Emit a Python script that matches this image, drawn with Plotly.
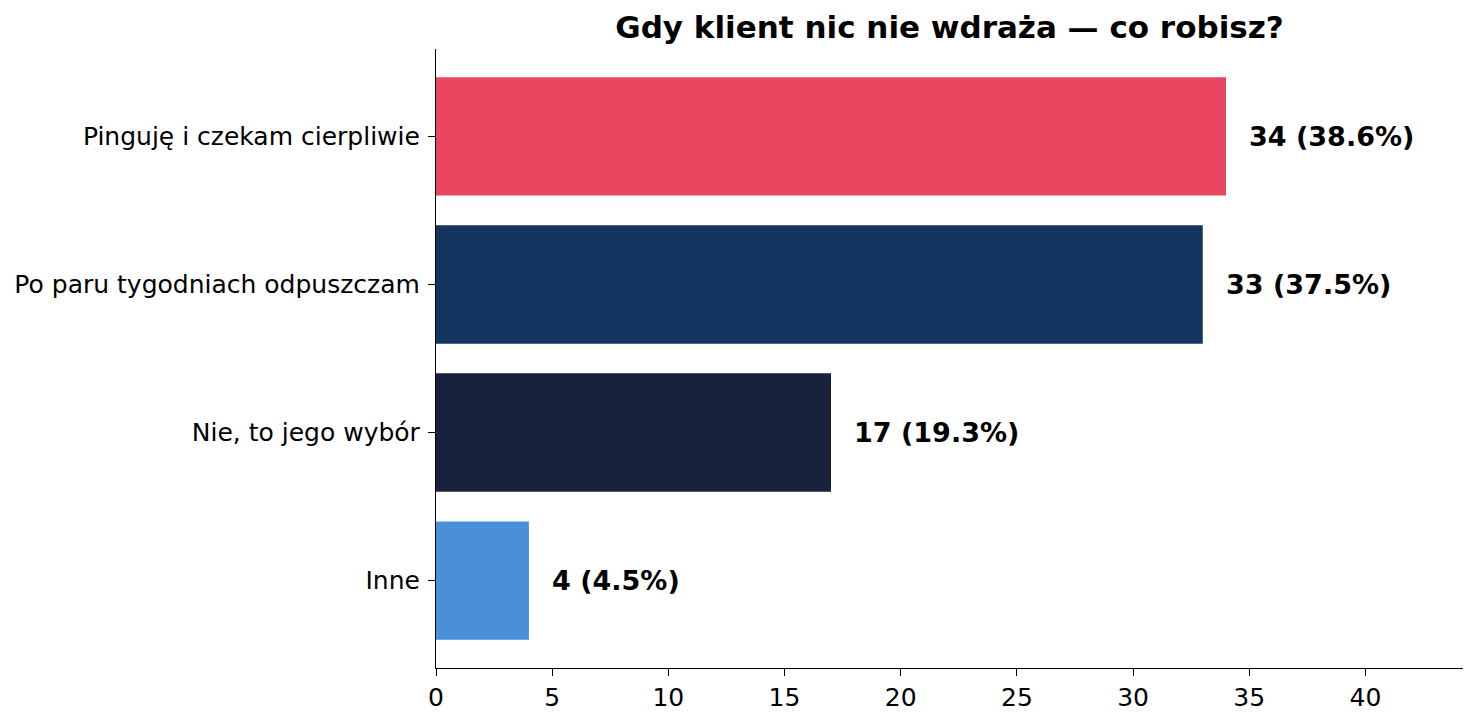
import plotly.graph_objects as go

categories = ["Pinguję i czekam cierpliwie", "Po paru tygodniach odpuszczam",
              "Nie, to jego wybór", "Inne"]
counts = [34, 33, 17, 4]
percents = [38.6, 37.5, 19.3, 4.5]
colors = ["#E84661", "#12345E", "#18223D", "#4A90D9"]

fig = go.Figure(go.Bar(
    x=counts, y=categories, orientation="h",
    marker=dict(color=colors, line=dict(width=0)),
    width=0.8, hoverinfo="skip",
))

# value labels to the right of each bar
for c, n, p in zip(categories, counts, percents):
    fig.add_annotation(x=n + 0.9, y=c, text=f"<b>{n} ({p}%)</b>",
                       xanchor="left", yanchor="middle", showarrow=False,
                       font=dict(size=27, color="black"))

# page body has an 8px margin, so the figure is a bit smaller than the window
W, H = 1462, 706
fig.update_layout(
    width=W, height=H,
    margin=dict(l=428, r=7, t=41, b=46),
    plot_bgcolor="white", paper_bgcolor="white",
    font=dict(family="DejaVu Sans", color="black"),
    title=dict(text="<b>Gdy klient nic nie wdraża — co robisz?</b>",
               x=(428 + 1455) / 2 / W, xanchor="center",
               y=1 - 19 / H, yanchor="middle",
               font=dict(size=31)),
    showlegend=False,
)
fig.update_xaxes(range=[0, 44.2], tickvals=[0, 5, 10, 15, 20, 25, 30, 35, 40],
                 showline=True, linecolor="black", linewidth=1.2,
                 ticks="outside", ticklen=7, tickcolor="black",
                 automargin=False,
                 showgrid=False, zeroline=False, tickfont=dict(size=25))
fig.update_yaxes(range=[3.59, -0.59], autorange=False,
                 categoryorder="array", categoryarray=categories,
                 showline=True, linecolor="black", linewidth=1.2,
                 ticks="outside", ticklen=7, tickcolor="black",
                 ticklabelstandoff=3, automargin=False,
                 showgrid=False, tickfont=dict(size=25))

fig.write_html("out.html")
